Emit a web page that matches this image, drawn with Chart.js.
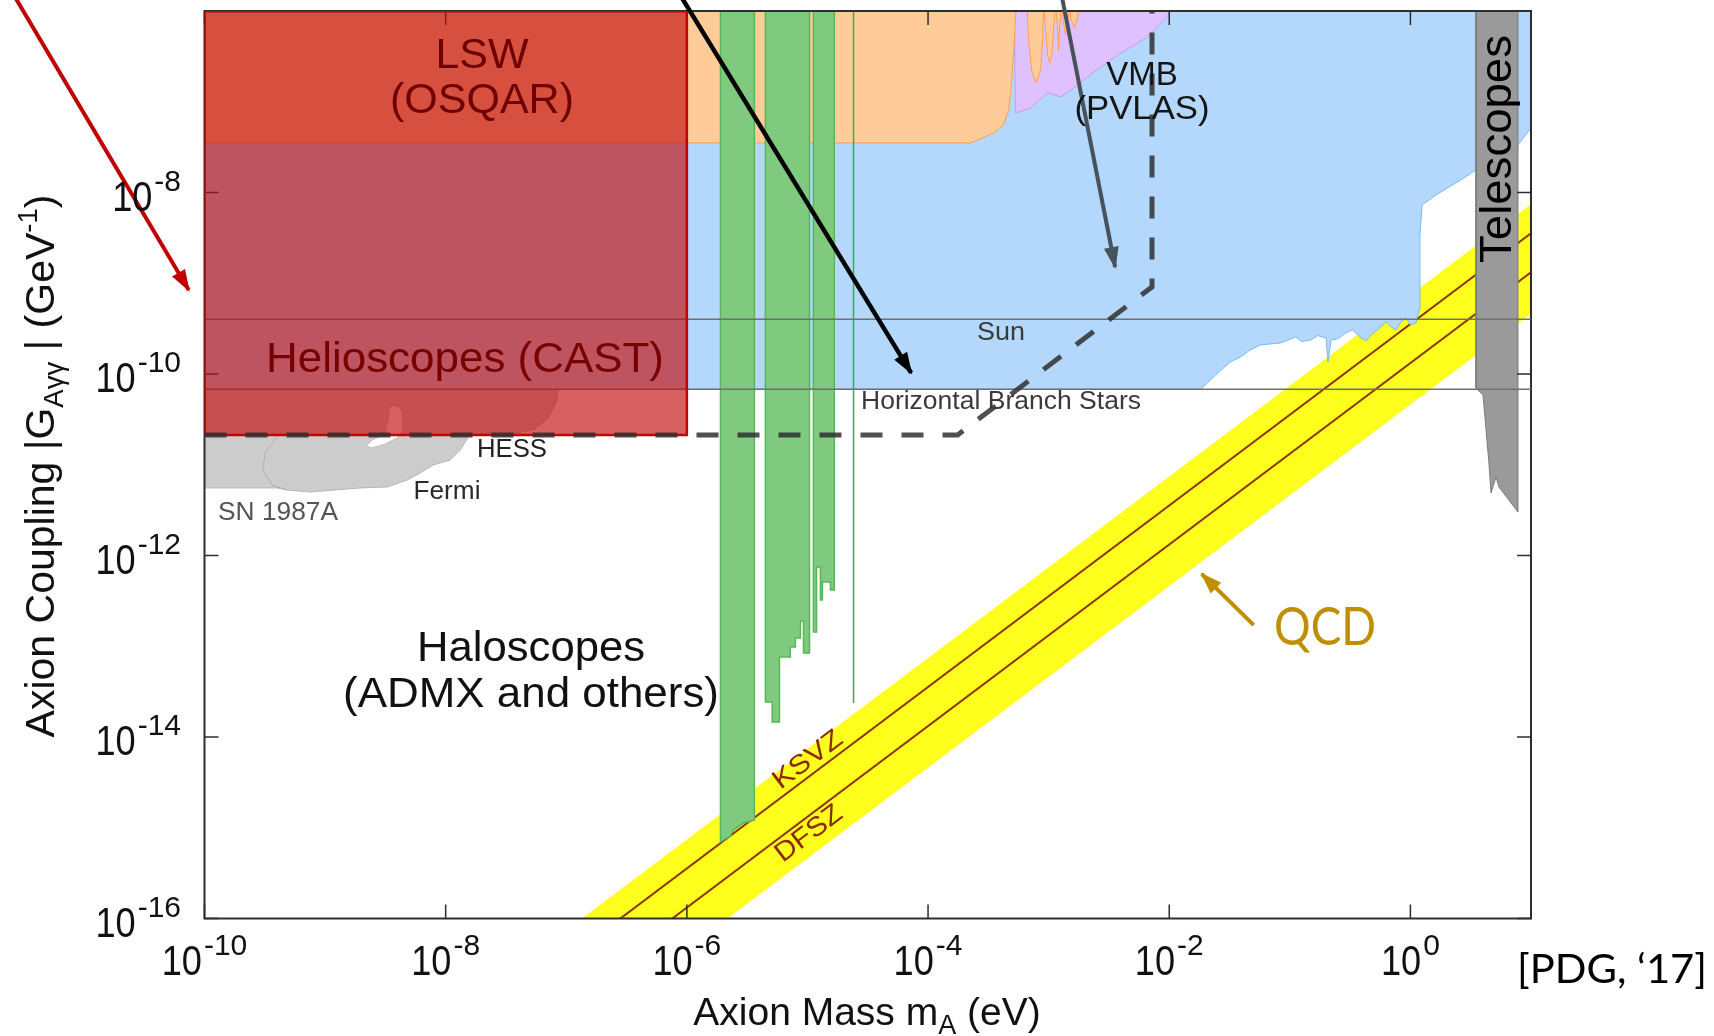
<!DOCTYPE html>
<html>
<head>
<meta charset="utf-8">
<title>Axion coupling limits</title>
<script src="https://cdn.jsdelivr.net/npm/chart.js@4.4.1/dist/chart.umd.min.js"></script>
<style>
  html, body { margin: 0; padding: 0; background: #fff; }
  #wrap { width: 1714px; height: 1036px; }
</style>
</head>
<body>
<div id="wrap"><canvas id="axionChart" width="1714" height="1036"></canvas></div>
<script>
// decade exponents that get a tick + label
const xTickExp = [-10, -8, -6, -4, -2, 0];
const yTickExp = [-16, -14, -12, -10, -8];

// every boundary is [mass (eV), coupling (GeV^-1)]
const helioscopeEdge = [
  [1e-10, 6.8e-11], [0.0182, 6.8e-11], [0.0243, 9.75e-11], [0.032, 1.355e-10], [0.039, 1.54e-10],
  [0.047, 1.84e-10], [0.057, 2.09e-10], [0.084, 2.2e-10], [0.112, 2.56e-10], [0.125, 2.28e-10],
  [0.149, 2.37e-10], [0.17, 2.65e-10], [0.2, 2.49e-10], [0.207, 1.355e-10], [0.22, 2.37e-10],
  [0.25, 2.44e-10], [0.29, 2.83e-10], [0.33, 3.06e-10], [0.39, 2.49e-10], [0.43, 2.33e-10],
  [0.47, 2.69e-10], [0.55, 3.17e-10], [0.63, 3.74e-10], [0.7, 3.27e-10], [0.76, 3.05e-10],
  [0.84, 3.8e-10], [0.92, 4.14e-10], [1.0, 3.48e-10], [1.11, 3.65e-10], [1.18, 5.07e-10],
  [1.2, 3.4e-9], [1.25, 7.28e-9], [1.63, 9.37e-9], [2.6, 1.37e-8], [3.5, 1.77e-8],
  [7.8, 3.33e-8], [10, 5.14e-8]
];
const lswEdge = [
  [1e-10, 3.51e-8], [2.25e-4, 3.51e-8], [3.5e-4, 4.53e-8], [4.2e-4, 5.55e-8], [4.66e-4, 8.11e-8],
  [4.93e-4, 1.61e-7], [5.2e-4, 4.8e-7], [5.4e-4, 1.2e-6],
  [6.6e-4, 1.2e-6], [6.82e-4, 4.8e-7], [7.23e-4, 2.24e-7], [7.9e-4, 1.61e-7], [8.59e-4, 2.24e-7], [8.91e-4, 4.8e-7],
  [9.1e-4, 1.2e-6], [9.44e-4, 6.18e-7], [9.82e-4, 3.27e-7], [1.02e-3, 2.67e-7], [1.06e-3, 3.27e-7], [1.1e-3, 6.18e-7],
  [1.14e-3, 1.2e-6], [1.19e-3, 6.18e-7], [1.21e-3, 3.72e-7], [1.23e-3, 6.18e-7],
  [1.28e-3, 1.2e-6], [1.33e-3, 7.57e-7], [1.38e-3, 5.45e-7], [1.44e-3, 7.57e-7],
  [1.49e-3, 1.2e-6], [1.52e-3, 8.37e-7], [1.64e-3, 6.5e-7], [1.73e-3, 8.37e-7], [1.85e-3, 1.2e-6]
];
const pvlasEdge = [
  [5.2e-4, 1.2e-6], [5.3e-4, 7.52e-8], [7.1e-4, 8.53e-8], [9.8e-4, 1.25e-7], [1.26e-3, 1.13e-7],
  [1.74e-3, 1.53e-7], [2.37e-3, 2.13e-7], [3.96e-3, 3.44e-7], [6.6e-3, 5.16e-7], [9.7e-3, 8.59e-7],
  [1.03e-2, 1.2e-6]
];
const admxA = [
  [1.9e-6, 1.2e-6], [1.9e-6, 6.97e-16], [2.3e-6, 8.1e-16], [2.43e-6, 9.44e-16], [2.94e-6, 1.127e-15],
  [3.63e-6, 1.215e-15], [3.63e-6, 1.2e-6]
];
const admxB = [
  [4.48e-6, 1.2e-6], [4.48e-6, 2.43e-14], [5.1e-6, 2.43e-14], [5.1e-6, 1.46e-14], [5.86e-6, 1.46e-14],
  [5.86e-6, 7.62e-14], [7.2e-6, 7.62e-14], [7.2e-6, 9.82e-14], [7.95e-6, 9.82e-14], [7.95e-6, 1.233e-13],
  [8.75e-6, 1.233e-13], [8.75e-6, 1.9e-13], [9.27e-6, 1.9e-13], [9.27e-6, 8.44e-14], [1.04e-5, 8.44e-14],
  [1.04e-5, 1.2e-6]
];
const admxC = [
  [1.12e-5, 1.2e-6], [1.12e-5, 1.435e-13], [1.19e-5, 1.435e-13], [1.19e-5, 7.46e-13], [1.28e-5, 7.46e-13],
  [1.28e-5, 3.24e-13], [1.33e-5, 3.24e-13], [1.33e-5, 5.1e-13], [1.55e-5, 5.1e-13], [1.55e-5, 4.17e-13],
  [1.67e-5, 4.17e-13], [1.67e-5, 1.2e-6]
];
const admxD = [[2.41e-5, 1.2e-6], [2.41e-5, 2.37e-14]];
const snLower = [
  [1e-10, 5.55e-12], [4.0e-10, 5.55e-12], [4.84e-10, 5.27e-12], [7.5e-10, 5.01e-12], [1.95e-9, 5.55e-12],
  [3.27e-9, 5.69e-12], [4.79e-9, 6.79e-12], [6.14e-9, 8.11e-12], [7.87e-9, 9.93e-12], [1.09e-8, 1.127e-11],
  [1.32e-8, 1.455e-11], [1.45e-8, 1.78e-11], [1.6e-8, 2.18e-11], [3.43e-8, 2.18e-11], [5.32e-8, 2.42e-11],
  [7.1e-8, 3.27e-11], [8.26e-8, 4.92e-11], [8.6e-8, 6.8e-11]
];
const snUpper = [[1e-10, 6.8e-11], [8.6e-8, 6.8e-11]];
const hessLower = [[2.19e-9, 1.61e-11], [2.45e-9, 1.53e-11], [3.15e-9, 1.69e-11], [3.96e-9, 1.97e-11], [4.36e-9, 2.3e-11], [4.44e-9, 2.74e-11]];
const hessUpper = [
  [2.19e-9, 1.61e-11], [2.45e-9, 1.875e-11], [3.15e-9, 2.18e-11], [3.34e-9, 3.27e-11], [3.4e-9, 4.22e-11],
  [3.66e-9, 4.55e-11], [4.04e-9, 4.44e-11], [4.36e-9, 3.81e-11], [4.44e-9, 2.74e-11]
];
const fermiEdge = [[4.4e-10, 2.42e-11], [3.18e-10, 1.35e-11], [3.05e-10, 8.75e-12], [3.63e-10, 5.98e-12], [4.84e-10, 5.27e-12]];
const telescopeEdge = [
  [3.5, 1.2e-6], [3.5, 7.0e-11], [4.0, 5.88e-11], [4.48, 1.045e-11], [4.66, 4.89e-12], [5.13, 7.33e-12],
  [5.42, 5.69e-12], [7.8, 3.01e-12], [7.8, 1.2e-6]
];
const castBox = [[1e-10, 1.2e-6], [1e-10, 2.13e-11], [1e-6, 2.13e-11], [1e-6, 1.2e-6]];
const castTop = [[1e-10, 1e-6], [1e-6, 1e-6]];
const sunBound = [[1e-10, 4.0e-10], [10, 4.0e-10]];
const hbBound = [[1e-10, 6.8e-11], [10, 6.8e-11]];
const iaxoPath = [[1e-10, 2.13e-11], [1.76e-4, 2.13e-11], [7.2e-3, 9.1e-10], [7.2e-3, 1.2e-6]];

// QCD axion band, g proportional to m
const qcdMass = [1e-8, 10];
const bandUpper = [7.4e-18, 7.4e-9];
const bandLower = [4.6e-19, 4.6e-10];
const ksvz = [3.56e-18, 3.56e-9];
const dfsz = [1.32e-18, 1.32e-9];

// annotation arrows: tail, tip
const redArrow = [[2.62e-12, 1.5e-6], [7.4e-11, 8.43e-10]];
const blackArrow = [[8.8e-7, 1.5e-6], [7.24e-5, 1.03e-10]];
const greyArrow = [[1.28e-3, 1.5e-6], [3.56e-3, 1.51e-9]];
const qcdArrow = [[0.0502, 1.71e-13], [0.0186, 6.25e-13]];

const SANS = "'Liberation Sans', Arial, sans-serif";
const CALI = "Lato, 'Open Sans', sans-serif";

const pts = arr => arr.map(([x, y]) => ({ x, y }));
const zip = (xs, ys) => xs.map((x, i) => ({ x, y: ys[i] }));

function region(label, data, color, edge, extra) {
  return Object.assign({ label, data: pts(data), backgroundColor: color, borderColor: edge, borderWidth: 1, fill: 'end' }, extra);
}
function line(label, data, color, width, extra) {
  return Object.assign({ label, data, borderColor: color, borderWidth: width, fill: false }, extra);
}
function arrow(label, data, color, width) {
  return { label, data: pts(data), borderColor: color, borderWidth: width, fill: false, clip: false, arrowHead: true };
}

// listed back to front
const datasets = [
  { label: 'QCD band', data: zip(qcdMass, bandUpper), backgroundColor: '#ffff1e', borderWidth: 0, fill: '+1' },
  { label: 'QCD band low', data: zip(qcdMass, bandLower), borderWidth: 0, fill: false },
  line('KSVZ', zip(qcdMass, ksvz), '#8c3412', 2),
  line('DFSZ', zip(qcdMass, dfsz), '#8c3412', 2),
  region('Helioscopes', helioscopeEdge, '#b3d8fb', '#7ab8f5'),
  region('VMB', pvlasEdge, '#dfc2fd', '#c79cf2'),
  region('LSW', lswEdge, '#ffcb99', '#ffa04c'),
  region('ADMX a', admxA, '#7fca7f', '#58b658', { borderWidth: 1.5 }),
  region('ADMX b', admxB, '#7fca7f', '#58b658', { borderWidth: 1.5 }),
  region('ADMX c', admxC, '#7fca7f', '#58b658', { borderWidth: 1.5 }),
  line('ADMX d', pts(admxD), '#3fae3f', 1.5),
  { label: 'SN 1987A', data: pts(snLower), backgroundColor: '#cccccc', borderColor: '#b6b6b6', borderWidth: 1, fill: '+1' },
  { label: 'SN top', data: pts(snUpper), borderWidth: 0, fill: false },
  { label: 'HESS', data: pts(hessLower), backgroundColor: '#ffffff', borderColor: '#bdbdbd', borderWidth: 1, fill: '+1' },
  line('HESS top', pts(hessUpper), '#bdbdbd', 1),
  line('Fermi edge', pts(fermiEdge), '#b0b0b0', 1),
  region('Telescopes', telescopeEdge, '#9a9a9a', '#7b7b7b'),
  line('Sun', pts(sunBound), '#707070', 1.5),
  line('HB', pts(hbBound), '#707070', 1.5),
  region('CAST', castBox, 'rgba(195,15,15,0.66)', '#c80000', { borderWidth: 2.5 }),
  line('CAST top', pts(castTop), '#c80000', 3),
  line('IAXO', pts(iaxoPath), 'rgba(48,48,48,0.85)', 5, { borderDash: [22, 19] }),
  arrow('red arrow', redArrow, '#c00000', 4),
  arrow('black arrow', blackArrow, '#000000', 4.5),
  arrow('grey arrow', greyArrow, '#48525c', 4),
  arrow('qcd arrow', qcdArrow, '#bf8f00', 4)
];
datasets.forEach((d, i) => { d.order = datasets.length - i; });

function richText(ctx, runs, x, y, opt = {}) {
  ctx.save();
  ctx.translate(x, y);
  if (opt.rotate) ctx.rotate(opt.rotate * Math.PI / 180);
  ctx.fillStyle = opt.color || '#111';
  ctx.textAlign = 'left';
  ctx.textBaseline = opt.baseline || 'alphabetic';
  const sized = runs.map(r => {
    ctx.font = r.size + 'px ' + (r.family || SANS);
    const raw = ctx.measureText(r.t).width;
    const sx = r.width ? r.width / raw : (r.sx || 1);
    return Object.assign({}, r, { sx, w: raw * sx });
  });
  const total = sized.reduce((s, r) => s + r.w + (r.gap || 0), 0);
  let cx = opt.align === 'left' ? 0 : opt.align === 'right' ? -total : -total / 2;
  sized.forEach(r => {
    ctx.font = r.size + 'px ' + (r.family || SANS);
    ctx.save();
    ctx.translate(cx, r.dy || 0);
    ctx.scale(r.sx, 1);
    ctx.fillText(r.t, 0, 0);
    ctx.restore();
    cx += r.w + (r.gap || 0);
  });
  ctx.restore();
}
function label(ctx, t, x, y, size, opt = {}) {
  richText(ctx, [{ t, size, width: opt.width, family: opt.family }], x, y, opt);
}

function drawFrame(chart) {
  const { ctx, chartArea: a, scales: { x, y } } = chart;
  ctx.save();
  ctx.strokeStyle = '#2e2e2e';
  ctx.lineWidth = 2;
  ctx.strokeRect(a.left, a.top, a.right - a.left, a.bottom - a.top);
  ctx.lineWidth = 1.5;
  ctx.beginPath();
  xTickExp.forEach(e => {
    const px = x.getPixelForValue(Math.pow(10, e));
    ctx.moveTo(px, a.bottom); ctx.lineTo(px, a.bottom - 14);
    ctx.moveTo(px, a.top); ctx.lineTo(px, a.top + 14);
  });
  yTickExp.forEach(e => {
    const py = y.getPixelForValue(Math.pow(10, e));
    ctx.moveTo(a.left, py); ctx.lineTo(a.left + 14, py);
    ctx.moveTo(a.right, py); ctx.lineTo(a.right - 14, py);
  });
  ctx.stroke();
  ctx.restore();
}

// filled heads at the last point of every arrow dataset
function drawArrowHeads(chart) {
  const ctx = chart.ctx;
  chart.data.datasets.forEach((d, i) => {
    if (!d.arrowHead) return;
    const p = chart.getDatasetMeta(i).data;
    const a = p[p.length - 2], b = p[p.length - 1];
    const ang = Math.atan2(b.y - a.y, b.x - a.x);
    ctx.save();
    ctx.translate(b.x, b.y);
    ctx.rotate(ang);
    ctx.fillStyle = d.borderColor;
    ctx.beginPath();
    ctx.moveTo(2, 0);
    ctx.lineTo(-20, -7.5);
    ctx.lineTo(-20, 7.5);
    ctx.closePath();
    ctx.fill();
    ctx.restore();
  });
}

function drawLabels(chart) {
  const ctx = chart.ctx;
  label(ctx, 'LSW', 482, 68, 43, { color: '#6e0000' });
  label(ctx, '(OSQAR)', 482, 113, 43, { color: '#6e0000' });
  label(ctx, 'Helioscopes (CAST)', 465, 372, 42, { color: '#780000', width: 398 });
  label(ctx, 'VMB', 1142, 85, 33, { color: '#151515' });
  label(ctx, '(PVLAS)', 1142, 119, 34, { color: '#151515', width: 135 });
  label(ctx, 'Sun', 1001, 340, 26, { color: '#3a3a3a', width: 48 });
  label(ctx, 'Horizontal Branch Stars', 1001, 409, 26, { color: '#3a3a3a', width: 280 });
  label(ctx, 'HESS', 512, 457, 25, { color: '#222', width: 70 });
  label(ctx, 'Fermi', 447, 499, 25, { color: '#2a2a2a', width: 67 });
  label(ctx, 'SN 1987A', 278, 520, 26, { color: '#555', width: 120 });
  label(ctx, 'Haloscopes', 531, 661, 43, { color: '#111', width: 228 });
  label(ctx, '(ADMX and others)', 531, 707, 43, { color: '#111', width: 376 });
  label(ctx, 'KSVZ', 808, 760, 27, { color: '#8b2a08', width: 80, rotate: -37, baseline: 'middle' });
  label(ctx, 'DFSZ', 809, 834, 27, { color: '#8b2a08', width: 77, rotate: -37, baseline: 'middle' });
  label(ctx, 'Telescopes', 1511, 149, 45, { color: '#000', width: 228, rotate: -90 });
  label(ctx, 'QCD', 1325, 645, 52, { color: '#bf8f00', width: 102, family: CALI });
  label(ctx, '[PDG, \u201817]', 1612, 983, 40, { color: '#000', width: 190, family: CALI });
}

function drawAxes(chart) {
  const { ctx, scales: { x, y } } = chart;
  xTickExp.forEach(e => {
    richText(ctx, [{ t: '10', size: 42, sx: 0.86, gap: 2 }, { t: String(e), size: 30, dy: -20 }],
      x.getPixelForValue(Math.pow(10, e)), 975, { color: '#111' });
  });
  yTickExp.forEach(e => {
    const py = y.getPixelForValue(Math.pow(10, e));
    richText(ctx, [{ t: '10', size: 42, sx: 0.86, gap: 2 }, { t: String(e), size: 30, dy: -20 }],
      181, py + 18, { color: '#111', align: 'right' });
  });
  richText(ctx, [{ t: 'Axion Mass m', size: 39 }, { t: 'A', size: 27, dy: 9 }, { t: ' (eV)', size: 39 }],
    867, 1025, { color: '#111' });
  richText(ctx, [{ t: 'Axion Coupling |G', size: 41 }, { t: 'A\u03b3\u03b3', size: 27.5, dy: 9 },
    { t: ' | (GeV', size: 41 }, { t: '-1', size: 27.5, dy: -17 }, { t: ')', size: 41 }],
    54, 466, { color: '#111', rotate: -90 });
}

const decor = {
  id: 'decor',
  afterDatasetDraw(chart, args) {
    if (chart.data.datasets[args.index].label === 'Telescopes') drawFrame(chart);
  },
  afterDatasetsDraw(chart) {
    drawArrowHeads(chart);
    drawLabels(chart);
  },
  afterDraw(chart) { drawAxes(chart); }
};

new Chart(document.getElementById('axionChart'), {
  type: 'line',
  data: { datasets },
  options: {
    responsive: false,
    animation: false,
    events: [],
    layout: { padding: { top: 11, right: 183, bottom: 0, left: 0 } },
    elements: { point: { radius: 0, hoverRadius: 0 }, line: { tension: 0 } },
    plugins: { legend: { display: false }, tooltip: { enabled: false } },
    scales: {
      x: {
        type: 'logarithmic', min: 1e-10, max: 10,
        ticks: { display: false }, grid: { display: false }, border: { display: false },
        afterFit: s => { s.height = 117.5; }
      },
      y: {
        type: 'logarithmic', min: 1e-16, max: 1e-6,
        ticks: { display: false }, grid: { display: false }, border: { display: false },
        afterFit: s => { s.width = 204.5; }
      }
    }
  },
  plugins: [decor]
});
</script>
</body>
</html>
